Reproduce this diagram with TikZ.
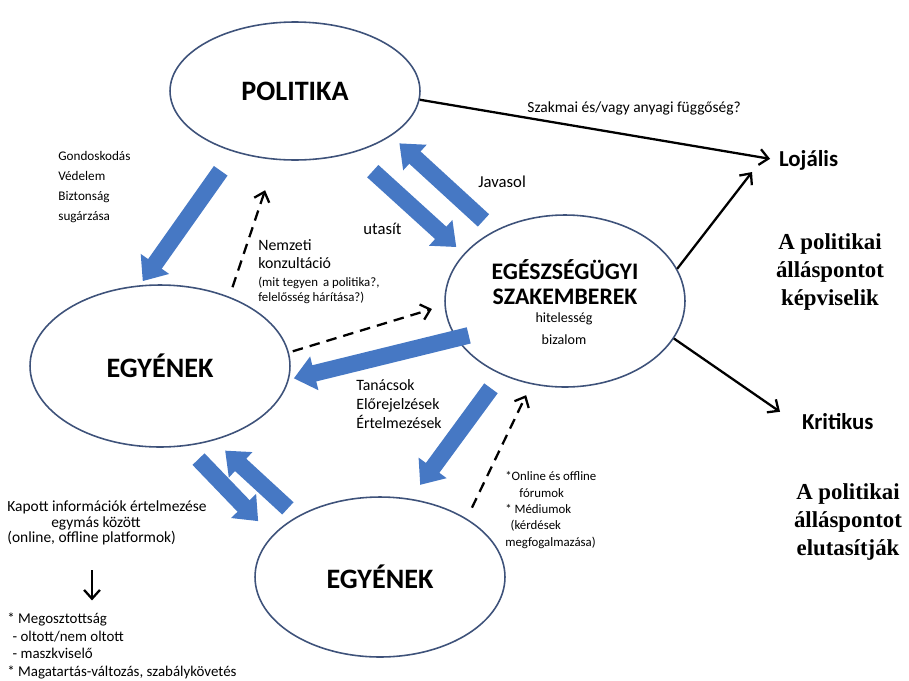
\documentclass[tikz,border=0pt]{standalone}
\usepackage{fontspec}
\setmainfont{Carlito}
\newfontfamily\timesbf{Liberation Serif}
\usetikzlibrary{arrows.meta, shapes.geometric}

\definecolor{ellblue}{RGB}{62,82,122}
\definecolor{arrblue}{RGB}{70,120,196}

\begin{document}
\begin{tikzpicture}[x=0.02cm, y=-0.02cm,
    bubble/.style={draw=ellblue, line width=0.9pt, ellipse, inner sep=0pt, fill=white, align=center},
    blockarrow/.style={arrblue, line width=9.5pt, -{Triangle[length=12pt, width=19pt]}},
    thinarrow/.style={line width=1.3pt, -{Straight Barb[length=5pt, width=9pt]}},
    dasharrow/.style={thinarrow, dash pattern=on 6pt off 4pt},
    small/.style={font=\fontsize{7.5}{11.2}\selectfont, align=left, inner sep=0pt, anchor=west},
    tiny/.style={font=\fontsize{7.3}{9.3}\selectfont, align=left, inner sep=0pt, anchor=west},
    opinion/.style={font=\timesbf\bfseries\fontsize{13}{16}\selectfont, align=center, inner sep=0pt}]
    \useasboundingbox (0,0) rectangle (909,680);

    % Ellipses
    \node (pol) [bubble, minimum width=5cm, minimum height=2.76cm, font=\bfseries\fontsize{16}{18}\selectfont] at (295,91) {POLITIKA};
    \node (szak) [bubble, minimum width=4.8cm, minimum height=3.44cm] at (565,301) {};
    \node (ind1) [bubble, minimum width=5.2cm, minimum height=3.24cm, font=\bfseries\fontsize{16}{18}\selectfont] at (160,366) {EGYÉNEK};
    \node (ind2) [bubble, minimum width=5cm, minimum height=3.2cm, font=\bfseries\fontsize{16}{18}\selectfont] at (380,577) {EGYÉNEK};

    % Text of the experts
    \node (szaktitle) [align=center, inner sep=0pt, font=\bfseries\fontsize{13.5}{14}\selectfont] at (565,282) {EGÉSZSÉGÜGYI\\SZAKEMBEREK};
    \node (szaknote) [small, anchor=center, align=center, font=\fontsize{8}{12.5}\selectfont] at (564,329) {hitelesség\\bizalom};

    % Blue arrows
    \draw[blockarrow, shorten <=0.46cm, shorten >=0.1cm] (pol.225) -- (ind1.104);
    \draw[blockarrow, shorten <=0.54cm, shorten >=0.2cm] (pol.313) -- (szak.155);
    \draw[blockarrow, shorten <=0.3cm, shorten >=0.22cm] (szak.135) -- (pol.335);
    \draw[blockarrow, shorten <=-0.26cm, shorten >=0.1cm] (szak.199) -- (ind1.354);
    \draw[blockarrow, shorten <=0.34cm, shorten >=0.34cm] (szak.229) -- (ind2.69);
    \draw[blockarrow, shorten <=0.36cm, shorten >=0.4cm] (ind1.288) -- (ind2.159);
    \draw[blockarrow, shorten <=0.24cm, shorten >=0.3cm] (ind2.144) -- (ind1.306);

    % Dashed arrows
    \draw[dasharrow, shorten <=0.2cm, shorten >=0.64cm] (ind1.45) -- (pol.254);
    \draw[dasharrow, shorten <=0.08cm, shorten >=0.26cm] (ind1.6) -- (szak.182);
    \draw[dasharrow, shorten <=0.24cm, shorten >=0.24cm] (ind2.34) -- (szak.248);

    % Right side
    \node (loj) [anchor=west, inner sep=1pt, font=\bfseries\fontsize{13}{15}\selectfont] at (777,160) {Lojális};
    \node (krit) [anchor=west, inner sep=1pt, font=\bfseries\fontsize{13}{15}\selectfont] at (800,422) {Kritikus};
    \node (op1) [opinion] at (830,272) {A politikai\\álláspontot\\képviselik};
    \node (op2) [opinion] at (848,522) {A politikai\\álláspontot\\elutasítják};

    \draw[thinarrow, shorten >=4pt] (pol.356) -- node[pos=0.6, above=11pt, inner sep=0pt, font=\fontsize{8.8}{10}\selectfont] {Szakmai és/vagy anyagi függőség?} (loj.west);
    \draw[thinarrow] (szak.16) -- ([xshift=-0.5cm]loj.south west);
    \draw[thinarrow] (szak.341) -- ([xshift=-0.4cm]krit.north west);

    % Labels
    \node (gond) [small, font=\fontsize{7.5}{11.3}\selectfont] at (58,187) {Gondoskodás\\Védelem\\Biztonság\\sugárzása};
    \node (utasit) [small, font=\fontsize{9.5}{11}\selectfont] at (363,229) {utasít};
    \node (javasol) [small, font=\fontsize{9.5}{11}\selectfont] at (478,182) {Javasol};
    \node (nemzeti) [small, font=\fontsize{9}{10.3}\selectfont] at (258,254) {Nemzeti\\konzultáció};
    \node (mit) [tiny, font=\fontsize{7.3}{8.6}\selectfont] at (258,290) {(mit tegyen\, a politika?,\\felelősség hárítása?)};
    \node (tanacs) [small, font=\fontsize{9}{10.8}\selectfont] at (356,404) {Tanácsok\\Előrejelzések\\Értelmezések};
    \node (online) [tiny] at (505,510) {*Online és offline\\\hspace{8pt}fórumok\\* Médiumok\\\hspace{3pt}(kérdések\\megfogalmazása)};

    % Bottom left
    \node (kapott) [small, font=\fontsize{8.8}{8.8}\selectfont] at (7,523) {Kapott információk értelmezése\\\hspace{25pt}egymás között\\(online, offline platformok)};
    \node (lista) [small, font=\fontsize{8.5}{10}\selectfont] at (7,646) {* Megosztottság\\\hspace{3pt}- oltott/nem oltott\\\hspace{3pt}- maszkviselő\\* Magatartás-változás, szabálykövetés};
    \draw[thinarrow, shorten <=14pt, shorten >=7pt] (kapott.south -| 92,0) -- (lista.north -| 92,0);
\end{tikzpicture}
\end{document}
